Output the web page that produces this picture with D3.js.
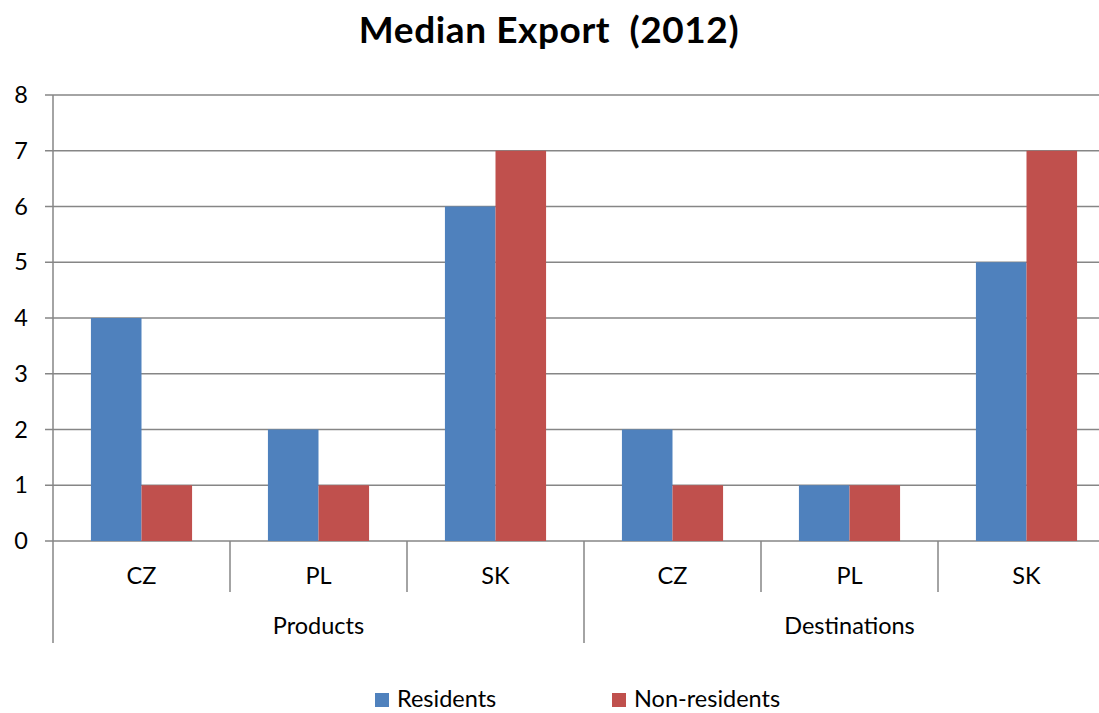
<!DOCTYPE html>
<html>
<head>
<meta charset="utf-8">
<script src="https://cdn.jsdelivr.net/npm/d3@7"></script>
<style>
  html, body { margin: 0; padding: 0; background: #fff; }
  svg { display: block; font-family: Lato, "Open Sans", sans-serif; }
</style>
</head>
<body>
<svg id="chart" width="1099" height="713"></svg>
<script>
// Chart data
const groups = ["Products", "Destinations"];
const countries = ["CZ", "PL", "SK"];
const seriesNames = ["Residents", "Non-residents"];
const residents = [4, 2, 6, 2, 1, 5];
const nonResidents = [1, 1, 7, 1, 1, 7];
const yTicks = [0, 1, 2, 3, 4, 5, 6, 7, 8];
const colors = ["#4F81BD", "#C0504D"];

const svg = d3.select("#chart");
const plotLeft = 53, plotRight = 1115, plotTop = 95, plotBottom = 541;
const gridColor = "#868686";
const labelSize = 23.5;

// one slot per group/country pair
const slots = [];
groups.forEach((g, gi) => countries.forEach((c, ci) => slots.push({ group: g, country: c, i: gi * countries.length + ci })));

const x = d3.scaleBand().domain(slots.map(d => d.i)).range([plotLeft, plotRight]).paddingInner(0).paddingOuter(0);
const y = d3.scaleLinear().domain([0, 8]).range([plotBottom, plotTop]);
const inner = d3.scaleBand().domain([0, 1]).range([0, x.bandwidth()]).paddingInner(0).paddingOuter(0.75);

// title
svg.append("text")
  .attr("x", 549).attr("y", 43)
  .attr("text-anchor", "middle")
  .attr("font-size", 37).attr("font-weight", "bold")
  .attr("letter-spacing", 0.6)
  .attr("fill", "#000")
  .style("white-space", "pre")
  .text("Median Export  (2012)");

// horizontal gridlines with small ticks on the left
svg.append("g").selectAll("line").data(yTicks).join("line")
  .attr("x1", plotLeft - 8).attr("x2", 1099)
  .attr("y1", d => y(d)).attr("y2", d => y(d))
  .attr("stroke", gridColor).attr("stroke-width", 1.5);

// y tick labels
svg.append("g").selectAll("text").data(yTicks).join("text")
  .attr("x", 28).attr("y", d => y(d) + 8)
  .attr("text-anchor", "end")
  .attr("font-size", labelSize).attr("fill", "#000")
  .text(d => d);

// bars
const seriesData = [residents, nonResidents];
seriesData.forEach((vals, si) => {
  svg.append("g").selectAll("rect").data(slots).join("rect")
    .attr("x", d => x(d.i) + inner(si))
    .attr("width", inner.bandwidth())
    .attr("y", d => y(vals[d.i]))
    .attr("height", d => y(0) - y(vals[d.i]))
    .attr("fill", colors[si]);
});

// y axis line
svg.append("line")
  .attr("x1", plotLeft).attr("x2", plotLeft)
  .attr("y1", plotTop).attr("y2", 643)
  .attr("stroke", gridColor).attr("stroke-width", 1.5);

// category separators: short ticks between countries, long ones between groups
d3.range(1, slots.length + 1).forEach(k => {
  const xx = plotLeft + k * x.bandwidth();
  const isGroupEdge = k % countries.length === 0;
  svg.append("line")
    .attr("x1", xx).attr("x2", xx)
    .attr("y1", plotBottom).attr("y2", isGroupEdge ? 643 : 592)
    .attr("stroke", gridColor).attr("stroke-width", 1.5);
});

// country labels
svg.append("g").selectAll("text").data(slots).join("text")
  .attr("x", d => x(d.i) + x.bandwidth() / 2)
  .attr("y", 584)
  .attr("text-anchor", "middle")
  .attr("font-size", labelSize).attr("fill", "#000")
  .text(d => d.country);

// group labels
svg.append("g").selectAll("text").data(groups).join("text")
  .attr("x", (d, gi) => plotLeft + (gi * countries.length + countries.length / 2) * x.bandwidth())
  .attr("y", 634)
  .attr("text-anchor", "middle")
  .attr("font-size", labelSize).attr("fill", "#000")
  .text(d => d);

// legend
const legendX = [375, 612];
seriesNames.forEach((name, si) => {
  const g = svg.append("g").attr("transform", `translate(${legendX[si]},693)`);
  g.append("rect").attr("x", 0).attr("y", 0).attr("width", 14).attr("height", 14).attr("fill", colors[si]);
  g.append("text").attr("x", 22).attr("y", 14).attr("font-size", labelSize).attr("fill", "#000").text(name);
});
</script>
</body>
</html>
